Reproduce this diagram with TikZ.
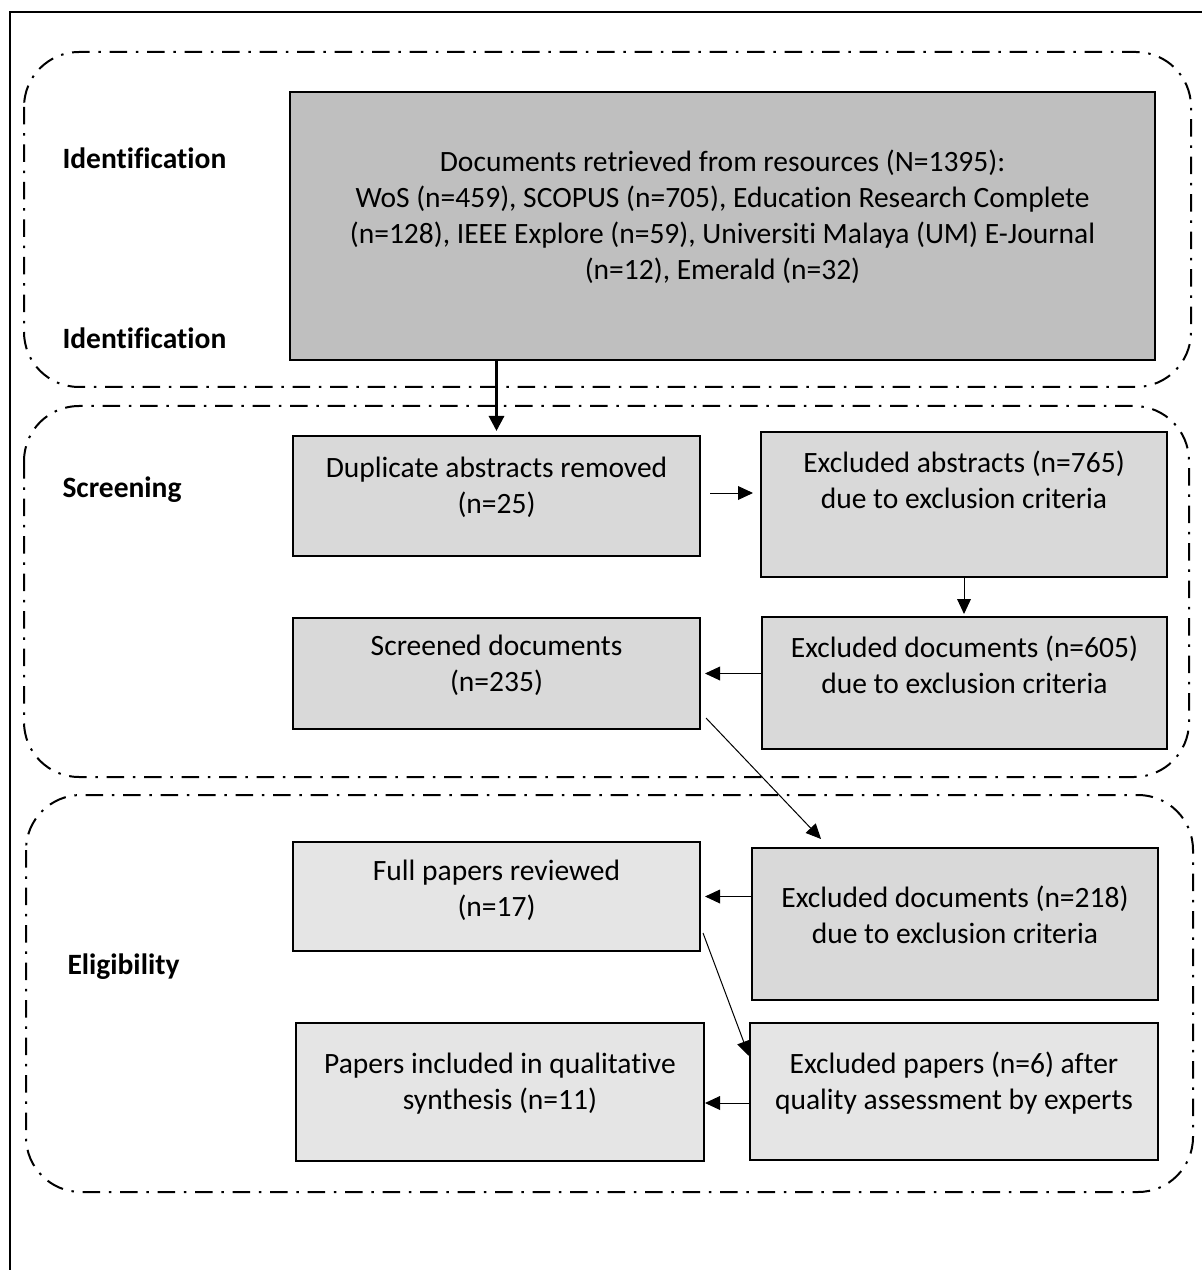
\documentclass[tikz,border=0pt]{standalone}
\usepackage{fontspec}
\setmainfont{Carlito}[Ligatures=NoCommon]
\usetikzlibrary{arrows.meta,calc}

\colorlet{darkbox}{black!25}
\colorlet{midbox}{black!15}
\colorlet{lightbox}{black!10}
\newcommand{\flowfont}{\fontsize{11.8}{14.4}\selectfont}

\begin{document}
\begin{tikzpicture}[x=0.4pt,y=-0.4pt,
  box/.style 2 args={draw,line width=0.8pt,inner sep=0pt,
    minimum width=#1*0.4pt,minimum height=#2*0.4pt},
  txt/.style={align=center,inner sep=0pt,font=\flowfont},
  lbl/.style={anchor=west,inner sep=0pt,font=\flowfont\bfseries},
  stage/.style={draw,line width=0.8pt,rounded corners=22pt,
    dash pattern=on 7pt off 3.5pt on 1pt off 3.5pt},
  arr/.style={-{Triangle[length=6pt,width=5.5pt]},line width=0.4pt},
  bigarr/.style={-{Triangle[length=6pt,width=6pt]},line width=1.2pt}]

\useasboundingbox (0,0) rectangle (1202,1270);

% frame
\draw[line width=0.8pt] (10,1270) -- (10,12) -- (1202,12);

% stages
\draw[stage] (24,52) rectangle (1191,387);
\draw[stage] (24,406) rectangle (1189,777);
\draw[stage] (26,795) rectangle (1193,1192);

\node[lbl] (idA) at (62,158) {Identification};
\node[lbl] (idB) at (62,338) {Identification};
\node[lbl] (scrl) at (62,490) {Screening};
\node[lbl] (elig) at (67,967) {Eligibility};

% boxes
\node[box={865}{268},fill=darkbox] (src) at (722.5,226) {};
\node[txt] (srct) at (722.5,217) {Documents retrieved from resources (N=1395):\\
  WoS (n=459), SCOPUS (n=705), Education Research Complete\\
  (n=128), IEEE Explore (n=59), Universiti Malaya (UM) E-Journal\\
  (n=12), Emerald (n=32)};

\node[box={407}{120},fill=midbox] (dup) at (496.5,496) {};
\node[txt] (dupt) at (496.5,487) {Duplicate abstracts removed\\(n=25)};

\node[box={406}{145},fill=midbox] (exabs) at (964,504.5) {};
\node[txt] (exabst) at (964,480) {Excluded abstracts (n=765)\\due to exclusion criteria};

\node[box={407}{111},fill=midbox] (scr) at (496.5,673.5) {};
\node[txt] (scrt) at (496.5,665) {Screened documents\\(n=235)};

\node[box={405}{132},fill=midbox] (ex605) at (964.5,683) {};
\node[txt] (ex605t) at (964.5,665) {Excluded documents (n=605)\\due to exclusion criteria};

\node[box={407}{109},fill=lightbox] (full) at (496.5,896.5) {};
\node[txt] (fullt) at (496.5,890.5) {Full papers reviewed\\(n=17)};

\node[box={406}{152},fill=midbox] (ex218) at (955,924) {};
\node[txt] (ex218t) at (955,915) {Excluded documents (n=218)\\due to exclusion criteria};

\node[box={408}{138},fill=lightbox] (incl) at (500,1092) {};
\node[txt] (inclt) at (500,1083.5) {Papers included in qualitative\\synthesis (n=11)};

\node[box={408}{137},fill=lightbox] (expap) at (954,1091.5) {};
\node[txt] (expapt) at (954,1083.5) {Excluded papers (n=6) after\\quality assessment by experts};

% arrows
\draw[bigarr] (src.south -| dup.north) -- ([yshift=1.6pt]dup.north);
\draw[arr] ($(dup.east)+(9,-3)$) -- ($(dup.east -| exabs.west)+(-7,-3)$);
\draw[arr] (exabs.south) -- ([yshift=0.8pt]exabs.south |- ex605.north);
\draw[arr] (ex605.west |- scr.east) -- ([xshift=1.6pt]scr.east);
\draw[arr] ($(scr.south east)+(5,-12)$) -- ($(ex218.north west)+(70,-8)$);
\draw[arr] (full.east -| ex218.west) -- ([xshift=1.6pt]full.east);
\draw[arr] ($(full.south east)+(2,-19)$) -- ($(expap.north west)+(0,34)$);
\draw[arr] ($(expap.west)+(0,11.5)$) -- ($(incl.east)+(0,11)$);

\end{tikzpicture}
\end{document}
